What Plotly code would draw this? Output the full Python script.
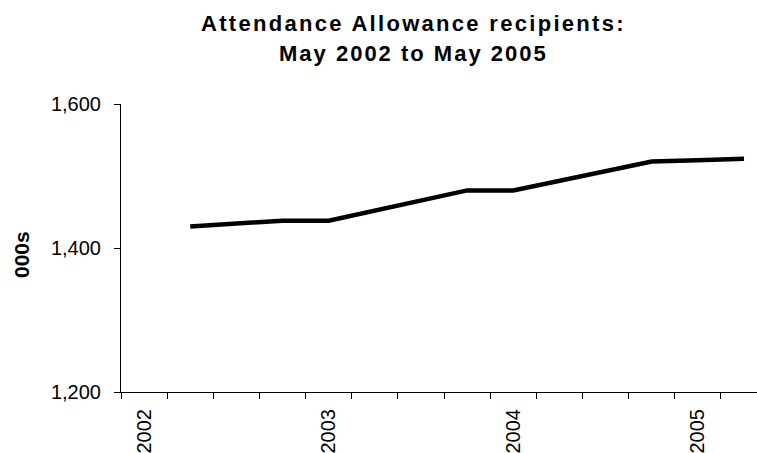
import plotly.graph_objects as go

# Quarterly reference dates (Feb of each year carries the year label)
periods = ["Feb 2002", "May 2002", "Aug 2002", "Nov 2002",
           "Feb 2003", "May 2003", "Aug 2003", "Nov 2003",
           "Feb 2004", "May 2004", "Aug 2004", "Nov 2004",
           "Feb 2005", "May 2005"]
# Recipients in thousands (no figure for Feb 2002)
recipients = [None, 1430, 1434, 1438, 1438, 1452, 1466, 1480,
              1480, 1493, 1507, 1520, 1522, 1524]
year_labels = ["2002", "2003", "2004", "2005"]
y_ticks = [1200, 1400, 1600]

x_pos = list(range(len(periods)))
label_pos = [i for i, p in enumerate(periods) if p.startswith("Feb")]
boundaries = [i - 0.5 for i in range(len(periods) + 1)]

FONT = "Liberation Sans, Arial, sans-serif"

fig = go.Figure()
fig.add_trace(go.Scatter(
    x=x_pos, y=recipients, mode="lines",
    line=dict(color="black", width=4.5),
    connectgaps=False, hoverinfo="skip", showlegend=False,
))

L, R, T, B = 121, 0, 104, 61
W, H = 757, 453
plot_w = W - L - R
plot_h = H - T - B
slot = 46.15  # pixel width of one quarter
x_end = -0.5 + plot_w / slot


def spaced(text, px):
    return f'<span style="letter-spacing:{px}px">{text}</span>'


title_x = (413 - L) / plot_w

fig.update_layout(
    width=W, height=H,
    margin=dict(l=L, r=R, t=T, b=B, pad=0),
    paper_bgcolor="white", plot_bgcolor="white",
    font=dict(family=FONT, color="black"),
    xaxis=dict(
        range=[-0.5, x_end],
        showgrid=False, zeroline=False,
        showline=True, linecolor="black", linewidth=1,
        tickmode="array", tickvals=label_pos, ticktext=year_labels,
        ticks="outside", ticklen=8, tickcolor="rgba(0,0,0,0)",
        tickangle=-90, tickfont=dict(size=20, family=FONT, color="black"),
        minor=dict(tickmode="array", tickvals=boundaries,
                   ticks="outside", ticklen=6, tickcolor="black",
                   tickwidth=1, showgrid=False),
    ),
    yaxis=dict(
        range=[1200, 1600],
        showgrid=False, zeroline=False,
        showline=True, linecolor="black", linewidth=1,
        tickmode="array", tickvals=y_ticks, tickformat=",d",
        ticks="outside", ticklen=6, tickcolor="black",
        ticklabelstandoff=9,
        tickfont=dict(size=20, family=FONT, color="black"),
    ),
    annotations=[
        dict(text="<b>" + spaced("Attendance Allowance recipients:", 2.3) + "</b>",
             xref="paper", yref="paper",
             x=title_x, y=(H - B - 23) / plot_h,
             xanchor="center", yanchor="middle", showarrow=False,
             font=dict(size=22, family=FONT, color="black")),
        dict(text="<b>" + spaced("May 2002 to May 2005", 2.0) + "</b>",
             xref="paper", yref="paper",
             x=title_x, y=(H - B - 54) / plot_h,
             xanchor="center", yanchor="middle", showarrow=False,
             font=dict(size=22, family=FONT, color="black")),
        dict(text="<b>000s</b>", textangle=-90,
             xref="paper", yref="paper",
             x=(21 - L) / plot_w, y=(H - B - 255) / plot_h,
             xanchor="center", yanchor="middle", showarrow=False,
             font=dict(size=21, family=FONT, color="black")),
    ],
)

fig.write_html("out.html")
